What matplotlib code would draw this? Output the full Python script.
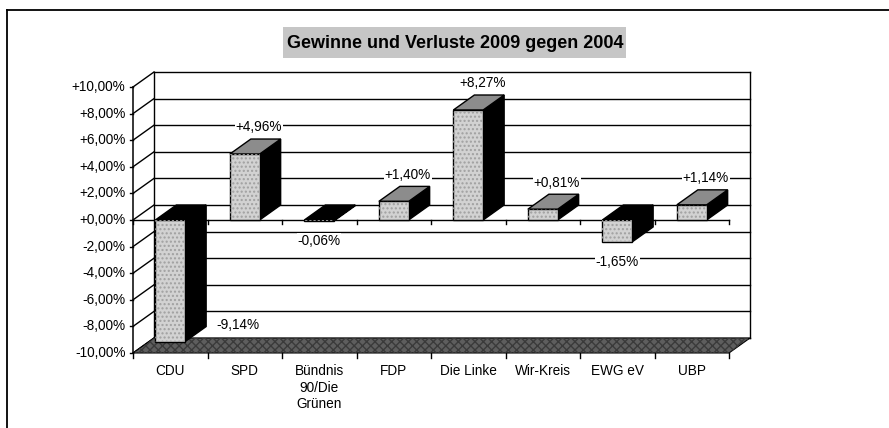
import matplotlib
matplotlib.use('Agg')
import matplotlib.pyplot as plt
from matplotlib.patches import Polygon, Rectangle
from matplotlib.lines import Line2D

plt.rcParams['font.family'] = ['Liberation Sans', 'DejaVu Sans']

# data
parties = ['CDU', 'SPD', 'Bündnis\n90/Die\nGrünen', 'FDP', 'Die Linke', 'Wir-Kreis', 'EWG eV', 'UBP']
changes = [-9.14, 4.96, -0.06, 1.40, 8.27, 0.81, -1.65, 1.14]
y_ticks = [10, 8, 6, 4, 2, 0, -2, -4, -6, -8, -10]
title = 'Gewinne und Verluste 2009 gegen 2004'

# layout (pixels of the 889x428 picture)
W, H = 889, 428
X0, CAT = 133, 74.5      # front y-axis position, px per category
Y0, PCT = 220, 13.3      # zero line position, px per percent
DX, DY = 21 / CAT, 15 / PCT   # 3D depth offset in data units
BW = 0.4                 # bar width (categories)
YMIN, YMAX = -10, 10
n = len(parties)
FS = 9.8
LW = 1.0

c_front = '#d2d2d2'
c_top = '#8c8c8c'
c_side = '#000000'
c_floor = '#5e5e5e'

fig = plt.figure(figsize=(W / 100, H / 100), dpi=100)
ax = fig.add_axes([0, 0, 1, 1])
ax.set_xlim(-X0 / CAT, (W - X0) / CAT)
ax.set_ylim(-(H - Y0) / PCT, Y0 / PCT)
ax.axis('off')

def fmt(v):
    return f'{v:+.2f}%'.replace('.', ',')

# back wall frame and gridlines
for t in y_ticks:
    ax.plot([DX, n + DX], [t + DY, t + DY], color='black', lw=LW, zorder=1)
    ax.plot([0, DX], [t, t + DY], color='black', lw=LW, zorder=1)
    ax.plot([-0.04, 0], [t, t], color='black', lw=LW, zorder=1)
    ax.text(-0.1, t, fmt(t), ha='right', va='center', fontsize=FS)
ax.plot([DX, DX], [YMIN + DY, YMAX + DY], color='black', lw=LW, zorder=1)
ax.plot([n + DX, n + DX], [YMIN + DY, YMAX + DY], color='black', lw=LW, zorder=1)
ax.plot([0, 0], [YMIN, YMAX], color='black', lw=1.1, zorder=4)

# floor
floor = Polygon([(0, YMIN), (n, YMIN), (n + DX, YMIN + DY), (DX, YMIN + DY)],
                closed=True, fc=c_floor, ec='black', lw=0.8, zorder=2)
ax.add_patch(floor)
ax.add_patch(Polygon(floor.get_xy(), closed=True, fill=False, hatch='xxxx',
                     ec='#3a3a3a', lw=0, zorder=2))

# category axis lines and ticks (zero line and floor front edge)
ax.plot([0, n], [0, 0], color='black', lw=LW, zorder=1.5)
for k in range(n + 1):
    ax.plot([k, k], [0, -0.3], color='black', lw=LW, zorder=1.5)
    ax.plot([k, k], [YMIN, YMIN - 0.4], color='black', lw=LW, zorder=2)

# bars
for i, v in enumerate(changes):
    x1 = i + 0.5 - BW / 2
    x2 = i + 0.5 + BW / 2
    lo, hi = min(v, 0), max(v, 0)
    side = Polygon([(x2, lo), (x2 + DX, lo + DY), (x2 + DX, hi + DY), (x2, hi)],
                   closed=True, fc=c_side, ec='black', lw=LW, zorder=3)
    top = Polygon([(x1, hi), (x2, hi), (x2 + DX, hi + DY), (x1 + DX, hi + DY)],
                  closed=True, fc=c_top if v > 0 else c_side, ec='black', lw=LW, zorder=3)
    front = Rectangle((x1, lo), BW, hi - lo, fc=c_front, ec='black', lw=LW, zorder=3.5)
    ax.add_patch(side)
    ax.add_patch(top)
    ax.add_patch(front)
    ax.add_patch(Rectangle((x1, lo), BW, hi - lo, fill=False, hatch='....',
                           ec='#a0a0a0', lw=0, zorder=3.6))

    # data labels
    if v >= 0:
        lx, ly = i + 0.5 + 0.19, v + 2.0
    elif v - 1.5 > YMIN + DY:
        lx, ly = i + 0.5, v - 1.5
    else:
        lx, ly = i + 0.5 + 0.91, v + 1.25
    ax.text(lx, ly, fmt(v), ha='center', va='center', fontsize=FS, zorder=6,
            bbox=dict(fc='white', ec='none', pad=0.5))

# category labels
for i, p in enumerate(parties):
    ax.text(i + 0.5, YMIN - 0.85, p, ha='center', va='top', fontsize=FS,
            linespacing=1.2)

# title with grey box
fig.add_artist(Rectangle((283 / W, 1 - 58 / H), 343 / W, 31 / H,
                         transform=fig.transFigure, fc='#c6c6c6', ec='none'))
fig.text(455 / W, 1 - 43 / H, title, ha='center', va='center',
         fontsize=13, fontweight='bold')

# outer chart frame
fig.add_artist(Line2D([7 / W, 1], [1 - 10 / H, 1 - 10 / H], transform=fig.transFigure,
                      color='black', lw=1.3))
fig.add_artist(Line2D([7 / W, 7 / W], [0, 1 - 10 / H], transform=fig.transFigure,
                      color='black', lw=1.3))

fig.savefig('out.png', dpi=100)
